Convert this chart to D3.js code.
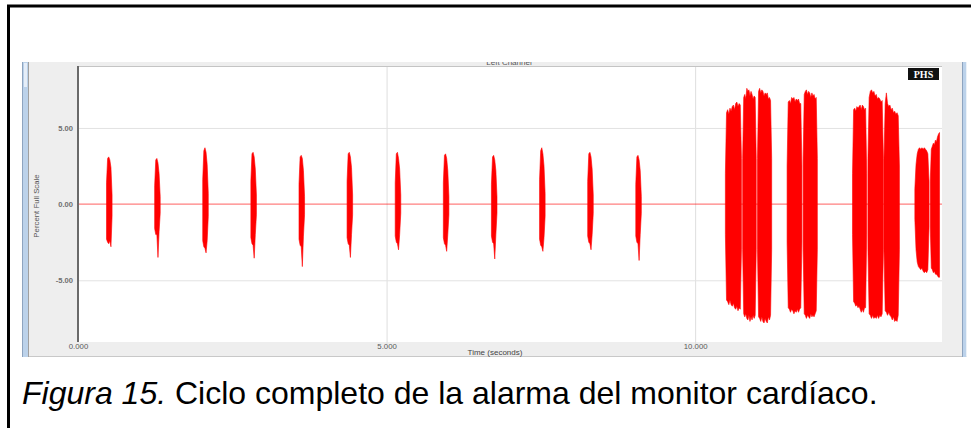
<!DOCTYPE html>
<html>
<head>
<meta charset="utf-8">
<script src="https://cdn.jsdelivr.net/npm/d3@7/dist/d3.min.js"></script>
<style>
    body { margin: 0; background: #fff; }
    svg { display: block; }
</style>
</head>
<body>
<div id="chart"></div>
<script>
// axis ticks
const xTicks = [0, 5, 10];
const yTicks = [-5, 0, 5];
const yGrid = [-5, 5];

// bursts: start / end (seconds) and envelope (percent full scale) sampled across each burst
const burstStart = [0.462, 1.242, 2.021, 2.801, 3.581, 4.360, 5.140, 5.920, 6.699, 7.479, 8.259, 9.038,
    10.49, 10.77, 11.01, 11.49, 11.75, 12.55, 12.80, 13.06, 13.56, 13.81];
const burstEnd = [0.552, 1.332, 2.111, 2.891, 3.671, 4.450, 5.230, 6.010, 6.789, 7.569, 8.349, 9.128,
    10.75, 10.99, 11.24, 11.73, 11.98, 12.78, 13.05, 13.31, 13.79, 13.96];
const burstTop = [
    [1.4, 3.0, 3.1, 2.9, 2.4, 0.6],
    [1.2, 2.9, 3.0, 2.7, 2.0, 0.5],
    [1.6, 3.5, 3.7, 3.4, 2.6, 0.7],
    [1.5, 3.3, 3.4, 3.1, 2.3, 0.6],
    [1.3, 3.1, 3.2, 3.0, 2.2, 0.5],
    [1.5, 3.3, 3.4, 3.1, 2.4, 0.6],
    [1.4, 3.3, 3.4, 3.0, 2.3, 0.6],
    [1.4, 3.2, 3.3, 3.0, 2.2, 0.5],
    [1.3, 3.1, 3.2, 2.9, 2.2, 0.5],
    [1.6, 3.5, 3.7, 3.3, 2.5, 0.7],
    [1.5, 3.3, 3.4, 3.1, 2.3, 0.6],
    [1.3, 3.1, 3.2, 2.9, 2.2, 0.5],
    [2.0, 6.0, 6.2, 5.9, 6.3, 6.1, 6.4, 6.5, 6.2, 6.6, 6.7, 6.4, 6.6, 6.5, 3.0],
    [3.0, 7.0, 7.2, 6.9, 7.6, 7.4, 7.5, 7.1, 7.4, 7.2, 6.9, 7.1, 7.0, 3.0],
    [3.0, 7.4, 7.6, 7.3, 7.5, 7.4, 7.1, 7.3, 7.2, 7.3, 6.9, 7.0, 6.8, 3.0],
    [2.5, 6.7, 6.8, 6.6, 7.0, 6.9, 7.0, 6.7, 6.9, 6.8, 6.9, 6.6, 6.6, 2.5],
    [3.0, 7.2, 7.4, 7.5, 7.2, 7.4, 7.3, 7.0, 7.3, 7.1, 7.2, 6.9, 7.0, 3.0],
    [2.0, 6.2, 6.3, 6.1, 6.4, 6.3, 6.4, 6.5, 6.2, 6.5, 6.4, 6.2, 6.3, 2.0],
    [3.0, 7.0, 7.4, 7.5, 7.3, 7.4, 7.1, 7.2, 6.9, 7.0, 6.9, 6.7, 6.8, 3.0],
    [3.0, 6.6, 7.3, 6.6, 6.4, 6.5, 6.2, 6.3, 6.0, 6.1, 5.9, 6.0, 5.8, 2.5],
    [1.0, 2.6, 3.3, 3.6, 3.7, 3.6, 3.7, 3.6, 3.7, 3.6, 3.5, 3.3, 1.5],
    [1.5, 3.6, 3.8, 4.0, 3.9, 4.2, 4.1, 4.4, 4.6, 4.7]
];
const burstBottom = [
    [-2.3, -2.5, -2.6, -2.4, -2.8, -0.8],
    [-1.6, -2.0, -2.0, -3.5, -1.8, -0.6],
    [-2.4, -2.8, -2.9, -3.2, -2.4, -0.8],
    [-2.2, -2.6, -2.7, -3.55, -2.0, -0.7],
    [-2.3, -2.7, -2.8, -4.1, -2.1, -0.7],
    [-2.2, -2.6, -2.7, -3.5, -2.0, -0.7],
    [-2.1, -2.5, -2.6, -3.0, -2.0, -0.6],
    [-2.2, -2.6, -2.7, -3.1, -2.0, -0.7],
    [-2.1, -2.5, -2.6, -3.6, -2.0, -0.6],
    [-2.3, -2.7, -2.8, -3.1, -2.2, -0.8],
    [-2.1, -2.5, -2.6, -3.0, -2.0, -0.6],
    [-2.1, -2.5, -2.6, -3.7, -2.0, -0.6],
    [-2.0, -6.3, -6.4, -6.6, -6.3, -6.6, -6.7, -6.5, -6.8, -6.9, -6.7, -7.0, -6.8, -6.9, -3.0],
    [-3.0, -7.2, -7.4, -7.2, -7.5, -7.6, -7.3, -7.7, -7.4, -7.6, -7.3, -7.5, -7.3, -3.0],
    [-3.0, -7.4, -7.5, -7.7, -7.4, -7.7, -7.8, -7.5, -7.7, -7.8, -7.4, -7.6, -7.3, -3.0],
    [-2.5, -6.8, -6.9, -7.1, -6.9, -7.0, -7.2, -7.0, -7.1, -6.9, -7.1, -6.9, -6.8, -2.5],
    [-3.0, -7.2, -7.3, -7.5, -7.3, -7.4, -7.5, -7.2, -7.4, -7.3, -7.4, -7.2, -7.0, -3.0],
    [-2.0, -6.4, -6.5, -6.7, -6.6, -6.8, -6.7, -6.9, -7.1, -6.9, -7.1, -6.8, -6.8, -2.0],
    [-3.0, -7.2, -7.3, -7.5, -7.3, -7.5, -7.4, -7.5, -7.3, -7.5, -7.3, -7.4, -7.2, -3.0],
    [-3.0, -7.0, -7.1, -7.3, -7.1, -7.3, -7.4, -7.6, -7.4, -7.7, -7.6, -7.7, -7.3, -3.0],
    [-1.0, -3.0, -3.8, -4.1, -4.2, -4.3, -4.2, -4.4, -4.5, -4.4, -4.5, -4.3, -1.5],
    [-1.5, -4.2, -4.3, -4.5, -4.4, -4.6, -4.6, -4.7, -4.8, -4.8]
];

const width = 971;
const height = 428;
const plot = { left: 78, right: 942, top: 67, bottom: 342 };
const labelFont = "'Liberation Sans', Arial, sans-serif";

let svg = d3.select("#chart")
    .append("svg")
        .attr("width", width)
        .attr("height", height);

svg.append("rect")
    .attr("width", width)
    .attr("height", height)
    .attr("fill", "#fff");

// outer frame of the document cell
svg.append("path")
    .attr("d", `M8.5,${height + 5} V6 H${width + 5}`)
    .attr("fill", "none")
    .attr("stroke", "#000")
    .attr("stroke-width", 3);

// screenshot window
svg.append("clipPath")
    .attr("id", "panel-clip")
    .append("rect")
        .attr("x", 22).attr("y", 62)
        .attr("width", 944.5).attr("height", 295);

let panel = svg.append("g").attr("clip-path", "url(#panel-clip)");
panel.append("rect")
    .attr("x", 22).attr("y", 62)
    .attr("width", 944.5).attr("height", 295)
    .attr("fill", "#eeeeee");
panel.append("line")
    .attr("x1", 22).attr("x2", 966.5)
    .attr("y1", 356.5).attr("y2", 356.5)
    .attr("stroke", "#c8c8c8");

// side scroll strips
[[22, 6], [962, 4.5]].forEach(([sx, sw]) => {
    panel.append("rect")
        .attr("x", sx).attr("y", 62)
        .attr("width", sw).attr("height", 295)
        .attr("fill", "#bcd2ea");
    panel.append("line")
        .attr("x1", sx + 0.5).attr("x2", sx + 0.5)
        .attr("y1", 62).attr("y2", 357)
        .attr("stroke", "#8ea4bf");
});
panel.append("rect")
    .attr("x", 24).attr("y", 63)
    .attr("width", 3).attr("height", 24)
    .attr("fill", "#e6eef8");
panel.append("line")
    .attr("x1", 28.5).attr("x2", 28.5)
    .attr("y1", 62).attr("y2", 357)
    .attr("stroke", "#a0a0a0");

// chart title, partly hidden under the window top
panel.append("text")
    .attr("x", 509).attr("y", 65)
    .attr("text-anchor", "middle")
    .attr("font-family", labelFont)
    .attr("font-size", "8px")
    .attr("fill", "#555")
    .text("Left Channel");

// plot background
panel.append("rect")
    .attr("x", plot.left).attr("y", plot.top)
    .attr("width", plot.right - plot.left)
    .attr("height", plot.bottom - plot.top)
    .attr("fill", "#fff");
panel.append("line")
    .attr("x1", plot.left).attr("x2", plot.right)
    .attr("y1", plot.top - 0.5).attr("y2", plot.top - 0.5)
    .attr("stroke", "#c4c4c4");

// Build scales
let x = d3.scaleLinear()
    .domain([0, 14])
    .range([plot.left, plot.right]);
let y = d3.scaleLinear()
    .domain([-9.05, 9.0])
    .range([plot.bottom, plot.top]);

// grid lines
panel.append("g")
    .attr("transform", `translate(0,${plot.top})`)
    .call(d3.axisBottom(x).tickValues(xTicks.slice(1)).tickSize(plot.bottom - plot.top + 2).tickFormat(""))
    .call(g => g.select(".domain").remove())
    .selectAll("line")
        .attr("stroke", "#dedede");
panel.append("g")
    .attr("transform", `translate(${plot.left},0)`)
    .call(d3.axisRight(y).tickValues(yGrid).tickSize(plot.right - plot.left).tickFormat(""))
    .call(g => g.select(".domain").remove())
    .selectAll("line")
        .attr("stroke", "#e2e2e2");

// X axis labels
panel.append("g")
    .attr("transform", `translate(0,${plot.bottom})`)
    .call(d3.axisBottom(x).tickValues(xTicks).tickSize(0).tickPadding(1.5).tickFormat(d => d.toFixed(3)))
    .call(g => g.select(".domain").remove())
    .selectAll("text")
        .attr("font-family", labelFont)
        .attr("font-size", "7.8px")
        .attr("fill", "#5a5a5a");

// Y axis labels
panel.append("g")
    .attr("transform", `translate(${plot.left},0)`)
    .call(d3.axisLeft(y).tickValues(yTicks).tickSize(0).tickPadding(5).tickFormat(d => d.toFixed(2)))
    .call(g => g.select(".domain").remove())
    .selectAll("text")
        .attr("font-family", labelFont)
        .attr("font-size", "7.6px")
        .attr("font-weight", "bold")
        .attr("fill", "#6e6e6e");

panel.append("line")
    .attr("x1", plot.left).attr("x2", plot.left)
    .attr("y1", plot.top - 1).attr("y2", plot.bottom)
    .attr("stroke", "#6a6a6a")
    .attr("stroke-width", 2);

panel.append("text")
    .attr("x", 495).attr("y", 354.5)
    .attr("text-anchor", "middle")
    .attr("font-family", labelFont)
    .attr("font-size", "8px")
    .attr("fill", "#444")
    .text("Time (seconds)");

panel.append("text")
    .attr("transform", `translate(39,206) rotate(-90)`)
    .attr("text-anchor", "middle")
    .attr("font-family", labelFont)
    .attr("font-size", "7.8px")
    .attr("fill", "#555")
    .text("Percent Full Scale");

// waveform
svg.append("clipPath")
    .attr("id", "plot-clip")
    .append("rect")
        .attr("x", plot.left + 1).attr("y", plot.top)
        .attr("width", plot.right - plot.left - 1)
        .attr("height", plot.bottom - plot.top);
let wave = panel.append("g").attr("clip-path", "url(#plot-clip)");

wave.append("line")
    .attr("x1", x(0)).attr("x2", x(14))
    .attr("y1", y(0)).attr("y2", y(0))
    .attr("stroke", "#ff0000")
    .attr("stroke-opacity", 0.5)
    .attr("stroke-width", 1.2);

let area = d3.area()
    .x(d => x(d.t))
    .y0(d => y(d.lo))
    .y1(d => y(d.hi));

burstStart.forEach((start, i) => {
    let n = burstTop[i].length;
    let step = (burstEnd[i] - start) / (n - 1);
    let points = burstTop[i].map((hi, j) => ({
        t: start + j * step,
        hi: hi,
        lo: burstBottom[i][j]
    }));
    wave.append("path")
        .datum(points)
        .attr("d", area)
        .attr("fill", "#ff0000")
        .attr("stroke", "#ff0000")
        .attr("stroke-width", 0.6);
});

// PHS badge
panel.append("rect")
    .attr("x", 908).attr("y", 68)
    .attr("width", 31).attr("height", 12)
    .attr("fill", "#111");
panel.append("text")
    .attr("x", 923.5).attr("y", 77.5)
    .attr("text-anchor", "middle")
    .attr("font-family", "'Liberation Serif', 'DejaVu Serif', serif")
    .attr("font-weight", "bold")
    .attr("font-size", "10px")
    .attr("fill", "#fff")
    .text("PHS");

// caption
let caption = svg.append("text")
    .attr("x", 22).attr("y", 404)
    .attr("font-family", labelFont)
    .attr("font-size", "32px")
    .attr("fill", "#000");
caption.append("tspan")
    .attr("font-style", "italic")
    .text("Figura 15.");
caption.append("tspan")
    .text(" Ciclo completo de la alarma del monitor cardíaco.");
</script>
</body>
</html>
